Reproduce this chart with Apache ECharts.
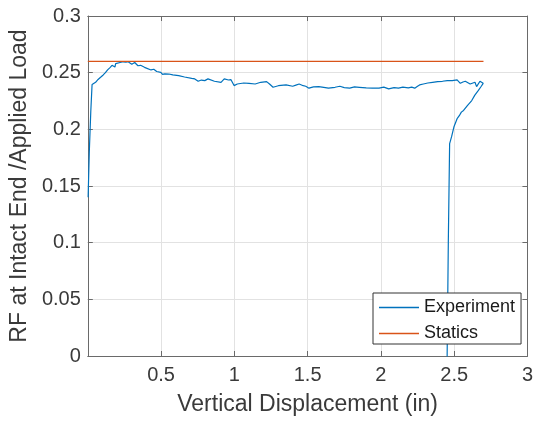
<!DOCTYPE html>
<html>
<head>
<meta charset="utf-8">
<script src="https://cdn.jsdelivr.net/npm/echarts@6/dist/echarts.min.js"></script>
<style>html,body{margin:0;padding:0;background:#fff}#c{width:536px;height:421px}</style>
</head>
<body>
<div id="c"></div>
<script>
const seriesNames = ["Experiment", "Statics"];
const xTickValues = [0, 0.5, 1, 1.5, 2, 2.5, 3];
const yTickValues = [0, 0.05, 0.1, 0.15, 0.2, 0.25, 0.3];
const experimentX = [0.002,0.010,0.020,0.029,0.040,0.053,0.062,0.070,0.078,0.087,0.095,0.105,0.120,0.135,0.153,0.165,0.176,0.185,0.190,0.198,0.220,0.242,0.260,0.275,0.287,0.300,0.320,0.342,0.360,0.387,0.400,0.431,0.450,0.470,0.498,0.510,0.525,0.553,0.580,0.620,0.660,0.709,0.730,0.753,0.775,0.798,0.820,0.864,0.909,0.931,0.942,0.960,0.976,0.998,1.020,1.064,1.100,1.142,1.180,1.220,1.240,1.264,1.300,1.353,1.398,1.420,1.442,1.470,1.487,1.509,1.540,1.576,1.610,1.642,1.687,1.720,1.750,1.787,1.820,1.853,1.900,1.942,1.987,2.020,2.053,2.090,2.120,2.150,2.187,2.210,2.231,2.250,2.264,2.290,2.320,2.353,2.387,2.420,2.453,2.487,2.520,2.542,2.560,2.576,2.609,2.642,2.653,2.676,2.698,2.685,2.664,2.640,2.620,2.590,2.564,2.549,2.535,2.520,2.498,2.482,2.469,2.460,2.452,2.450];
const experimentY = [0.140,0.180,0.215,0.2395,0.2410,0.2415,0.2405,0.2440,0.2425,0.2459,0.2445,0.2480,0.2500,0.2525,0.2547,0.2565,0.2576,0.2550,0.2580,0.2585,0.2590,0.2596,0.2592,0.2596,0.2590,0.2575,0.2590,0.2561,0.2565,0.2547,0.2550,0.2524,0.2530,0.2510,0.2503,0.2485,0.2490,0.2488,0.2480,0.2474,0.2462,0.2450,0.2445,0.2424,0.2435,0.2430,0.2445,0.2424,0.2415,0.2445,0.2448,0.2435,0.2439,0.2386,0.2400,0.2409,0.2405,0.2400,0.2415,0.2421,0.2400,0.2371,0.2385,0.2392,0.2380,0.2390,0.2400,0.2385,0.2380,0.2363,0.2375,0.2377,0.2370,0.2363,0.2371,0.2380,0.2368,0.2363,0.2375,0.2371,0.2365,0.2363,0.2363,0.2372,0.2357,0.2368,0.2363,0.2372,0.2366,0.2372,0.2363,0.2380,0.2392,0.2400,0.2409,0.2415,0.2421,0.2424,0.2430,0.2430,0.2436,0.2406,0.2418,0.2424,0.2400,0.2415,0.2377,0.2424,0.2406,0.2380,0.2342,0.2300,0.2254,0.2210,0.2167,0.2152,0.2120,0.2094,0.2020,0.1933,0.1874,0.1000,0.0000,-0.0100];
const staticsX = [0, 2.7];
const staticsY = [0.26, 0.26];

const chart = echarts.init(document.getElementById('c'), null, {renderer: 'canvas'});
const font = 'Liberation Sans, Arial, Helvetica, sans-serif';
const axisColor = '#6a6a6a';
const textColor = '#3a3a3a';
const colors = ['#0072BD', '#D95319'];
const xMin = xTickValues[0], xMax = xTickValues[xTickValues.length - 1];
const yMin = yTickValues[0], yMax = yTickValues[yTickValues.length - 1];
const xInt = xTickValues[1] - xTickValues[0];
const yInt = yTickValues[1] - yTickValues[0];

const pair = (xs, ys) => xs.map((x, i) => [x, ys[i]]);

const baseX = {
  type: 'value', min: xMin, max: xMax, interval: xInt,
  axisLine: {show: true, onZero: false, lineStyle: {color: axisColor, width: 1}},
  axisTick: {show: true, inside: true, length: 5, lineStyle: {color: axisColor}},
  splitLine: {show: false}
};
const baseY = {
  type: 'value', min: yMin, max: yMax, interval: yInt,
  axisLine: {show: true, onZero: false, lineStyle: {color: axisColor, width: 1}},
  axisTick: {show: true, inside: true, length: 5, lineStyle: {color: axisColor}},
  splitLine: {show: false}
};

chart.setOption({
  animation: false,
  backgroundColor: '#ffffff',
  grid: {left: 87, top: 16, right: 1, bottom: 64, containLabel: false},
  xAxis: [
    Object.assign({}, baseX, {
      position: 'bottom',
      name: 'Vertical Displacement (in)', nameLocation: 'middle', nameGap: 37,
      nameTextStyle: {fontFamily: font, fontSize: 23, color: textColor},
      axisLabel: {show: true, showMinLabel: false, fontFamily: font, fontSize: 20, color: textColor, margin: 9},
      splitLine: {show: true, lineStyle: {color: '#e2e2e2', width: 1}}
    }),
    Object.assign({}, baseX, {position: 'top', axisLabel: {show: false}})
  ],
  yAxis: [
    Object.assign({}, baseY, {
      position: 'left',
      name: 'RF at Intact End /Applied Load', nameLocation: 'middle', nameGap: 47,
      nameTextStyle: {fontFamily: font, fontSize: 23, color: textColor},
      axisLabel: {show: true, fontFamily: font, fontSize: 20, color: textColor, margin: 7},
      splitLine: {show: true, lineStyle: {color: '#e2e2e2', width: 1}}
    }),
    Object.assign({}, baseY, {position: 'right', axisLabel: {show: false}})
  ],
  legend: {
    show: true,
    orient: 'vertical',
    left: 373, top: 293,
    data: seriesNames.map(n => ({name: n, icon: 'rect'})),
    itemWidth: 40, itemHeight: 1.5, itemGap: 7,
    padding: [5, 6, 1, 6],
    backgroundColor: '#ffffff',
    borderColor: '#333333', borderWidth: 1,
    textStyle: {fontFamily: font, fontSize: 18, color: '#1a1a1a', lineHeight: 19}
  },
  series: [
    {
      name: seriesNames[0], type: 'line', xAxisIndex: 0, yAxisIndex: 0,
      data: pair(experimentX, experimentY),
      symbol: 'none', showSymbol: false, clip: true,
      lineStyle: {color: colors[0], width: 1.2},
      itemStyle: {color: colors[0]}
    },
    {
      name: seriesNames[1], type: 'line', xAxisIndex: 0, yAxisIndex: 0,
      data: pair(staticsX, staticsY),
      symbol: 'none', showSymbol: false, clip: true,
      lineStyle: {color: colors[1], width: 1.2},
      itemStyle: {color: colors[1]}
    }
  ]
});
</script>
</body>
</html>
